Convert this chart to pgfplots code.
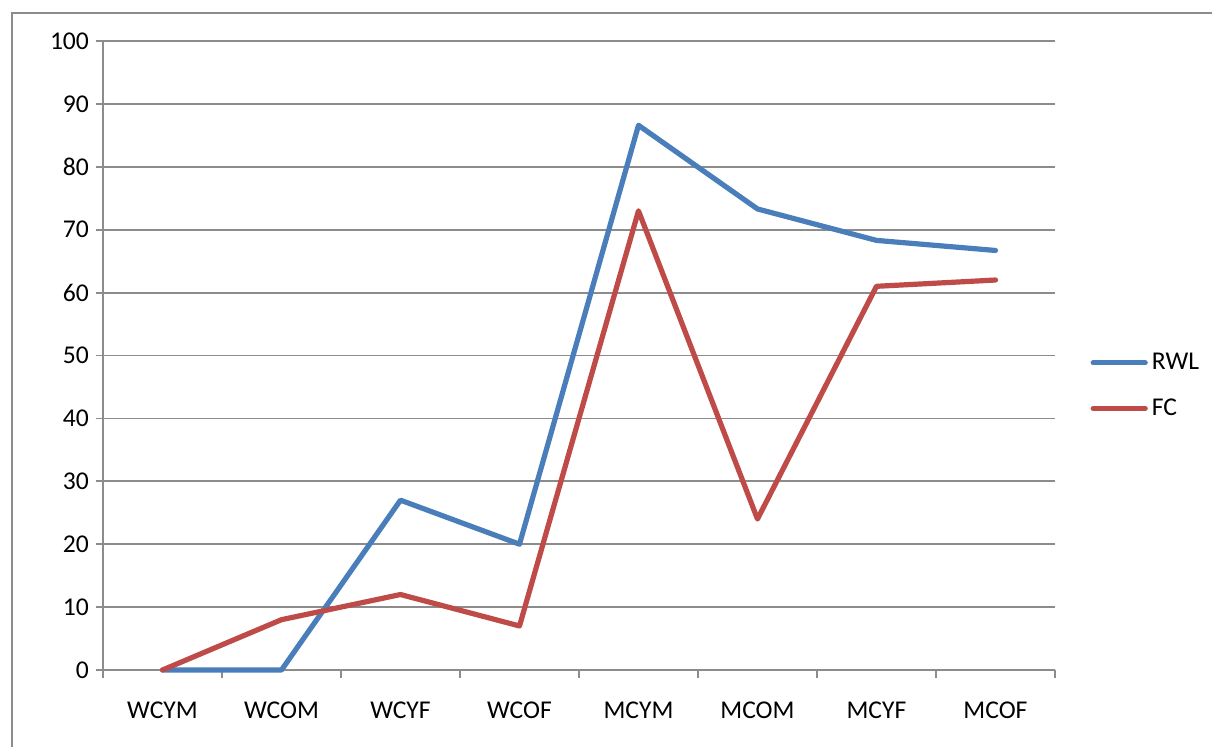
\documentclass[border=0pt]{standalone}
\usepackage{pgfplots}
\pgfplotsset{compat=1.18}
\usepackage{fontspec}
\setmainfont{Carlito}
\definecolor{rwl}{HTML}{4A7EBB}
\definecolor{fc}{HTML}{BE4B48}
\definecolor{gridc}{HTML}{8C8C8C}
\begin{document}
\begin{tikzpicture}
\useasboundingbox (0pt,0pt) rectangle (606pt,373pt);
\draw[gridc,line width=0.9pt] (6pt,-10pt) -- (6pt,366.5pt) -- (620pt,366.5pt);
\begin{axis}[
  at={(51.5pt,38pt)}, anchor=south west,
  scale only axis, width=476pt, height=314.5pt,
  xmin=-0.5, xmax=7.5, ymin=0, ymax=100,
  ytick={0,10,...,100},
  xtick={0,...,7},
  xticklabels={WCYM,WCOM,WCYF,WCOF,MCYM,MCOM,MCYF,MCOF},
  minor xtick={-0.5,0.5,...,7.5},
  major x tick style={draw=none},
  tick align=outside,
  major tick length=3.5pt, minor tick length=4pt,
  tick style={gridc,line width=0.9pt},
  axis x line*=bottom, axis y line*=left,
  axis line style={gridc,line width=0.9pt},
  ymajorgrids, grid style={gridc,line width=0.9pt},
  tick label style={font=\fontsize{12.8}{15}\selectfont},
  xticklabel style={yshift=-9pt},
  /pgf/number format/assume math mode=true,
  legend style={at={(1.037,0.452)}, anchor=west, draw=none, fill=none,
    font=\fontsize{12.8}{15}\selectfont, row sep=9pt, inner sep=0pt},
  legend cell align=left,
  legend image code/.code={\draw[#1,line cap=round] (0pt,0pt) -- (26pt,0pt);},
  every axis plot/.append style={line width=2.6pt, line join=round, line cap=round},
  clip=false,
]
\addplot[rwl] coordinates {(0,0) (1,0) (2,27) (3,20) (4,86.6) (5,73.3) (6,68.3) (7,66.7)};
\addplot[fc] coordinates {(0,0) (1,8) (2,12) (3,7) (4,73) (5,24) (6,61) (7,62)};
\legend{RWL,FC}
\end{axis}
\end{tikzpicture}
\end{document}
